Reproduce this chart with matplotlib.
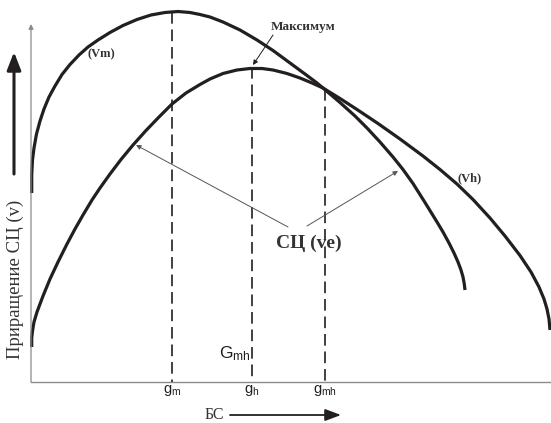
import matplotlib
matplotlib.use("Agg")
import matplotlib.pyplot as plt

# Schematic, pixel frame (x right, y down)
vm_x = [31.7, 31.7, 32.5, 34, 36.5, 40, 44, 49, 55, 62, 70, 79, 88, 98, 110, 123, 137,
        151, 165, 178, 190, 200, 210, 223, 240, 257, 273, 290, 305, 317, 323, 330, 340,
        355, 367, 380, 393, 403, 413, 425, 437, 443, 449, 454, 458, 461, 463, 464.3, 465]
vm_y = [193, 175, 160, 148, 134, 121, 109, 97, 86, 74.5, 64.5, 55, 47, 40, 32.5, 25.5, 19.5,
        15, 12.5, 11.5, 12.5, 14.5, 17, 22, 30, 40, 50.5, 63, 74, 83, 88, 94, 102.5,
        116, 128, 142, 157, 169.5, 183.5, 202.5, 222, 232, 243, 253, 262, 270, 277, 284, 290]

vh_x = [31.7, 31.7, 32.5, 34, 37, 43, 50, 58, 67, 75, 83, 92, 100, 110, 121, 133, 146,
        159, 172, 186, 200, 210, 223, 237, 250, 262, 273, 287, 300, 312, 323, 340, 357,
        378, 400, 423, 440, 457, 473, 490, 505, 520, 531, 539, 544, 547, 549, 550]
vh_y = [347, 338, 331, 322, 312, 296, 279, 262, 244, 229, 215, 200, 188, 174, 159.5, 145, 130.5,
        117, 104, 93, 84.5, 79, 73.5, 70, 68.5, 68.5, 70, 73.5, 78, 83, 88, 98.5, 109.5,
        123.5, 139, 156, 169.5, 184, 199.5, 218, 236, 255.5, 272, 287, 299, 309, 319, 330]

# dashed markers: x position, top of the line
drop_x = [172, 252, 325]
drop_top = [12, 67, 89]
drop_labels = ["m", "h", "mh"]

axis_x0, axis_y0 = 31, 382

serif = ["Liberation Serif", "DejaVu Serif"]
sans = ["Liberation Sans", "DejaVu Sans"]

fig = plt.figure(figsize=(5.51, 4.23), dpi=100)
ax = fig.add_axes([0, 0, 1, 1])
ax.set_xlim(0, 551)
ax.set_ylim(423, 0)
ax.axis("off")

ink = "#231f20"

# axes of the schematic
ax.plot([axis_x0, 551], [axis_y0, axis_y0], color="#8a8a8a", lw=1.0)
ax.annotate("", xy=(axis_x0, 24), xytext=(axis_x0, axis_y0),
            arrowprops=dict(arrowstyle="-|>", color="#8a8a8a", lw=0.9,
                            mutation_scale=7, shrinkA=0, shrinkB=0))

# curves
ax.plot(vm_x, vm_y, color=ink, lw=2.3, solid_capstyle="butt", solid_joinstyle="round")
ax.plot(vh_x, vh_y, color=ink, lw=2.3, solid_capstyle="butt", solid_joinstyle="round")

# vertical dashed lines + labels
for x, top, sub in zip(drop_x, drop_top, drop_labels):
    ax.plot([x, x], [top, axis_y0], color=ink, lw=1.2, linestyle=(0, (7, 3.5)))
    ax.text(x, 390, r"$\mathregular{g_{%s}}$" % sub, fontsize=10.5, family=sans,
            ha="center", va="center", color=ink)

ax.text(251, 354, r"$\mathregular{G_{mh}}$", fontsize=12.5, family=sans,
        ha="right", va="center", color=ink)

# annotations
ax.text(303, 27, "Максимум", fontsize=9.5, family=serif, fontweight="bold",
        ha="center", va="center", color="#333333")
ax.annotate("", xy=(253, 65), xytext=(273, 35),
            arrowprops=dict(arrowstyle="-|>", color=ink, lw=0.7,
                            mutation_scale=7, shrinkA=0, shrinkB=0))

ax.text(101, 54, "(Vm)", fontsize=9, family=serif, fontweight="bold",
        ha="center", va="center", color="#333333")
ax.text(470, 178, "(Vh)", fontsize=9, family=serif, fontweight="bold",
        ha="center", va="center", color="#333333")

ax.text(309, 243, "СЦ (ve)", fontsize=14, family=serif,
        fontweight="bold", ha="center", va="center", color="#333333")
ax.annotate("", xy=(136, 145), xytext=(288, 227),
            arrowprops=dict(arrowstyle="-|>", color="#555555", lw=0.7,
                            mutation_scale=7, shrinkA=0, shrinkB=0))
ax.annotate("", xy=(398, 171), xytext=(307, 226),
            arrowprops=dict(arrowstyle="-|>", color="#555555", lw=0.7,
                            mutation_scale=7, shrinkA=0, shrinkB=0))

# axis titles
ax.text(15, 279, "Приращение СЦ (v)", fontsize=13.5, family=serif, rotation=90,
        ha="center", va="center", color="#333333")
ax.annotate("", xy=(14, 52), xytext=(14, 174),
            arrowprops=dict(arrowstyle="-|>,head_width=0.35,head_length=0.9",
                            color=ink, lw=2.2, mutation_scale=12,
                            shrinkA=0, shrinkB=0))

ax.text(214, 415, "БС", fontsize=11.5, family=serif, ha="center", va="center",
        color="#333333")
ax.annotate("", xy=(341, 415), xytext=(230, 415),
            arrowprops=dict(arrowstyle="-|>,head_width=0.3,head_length=0.8",
                            color=ink, lw=1.3, mutation_scale=12,
                            shrinkA=0, shrinkB=0))

fig.savefig("out.png", dpi=100, facecolor="white")
